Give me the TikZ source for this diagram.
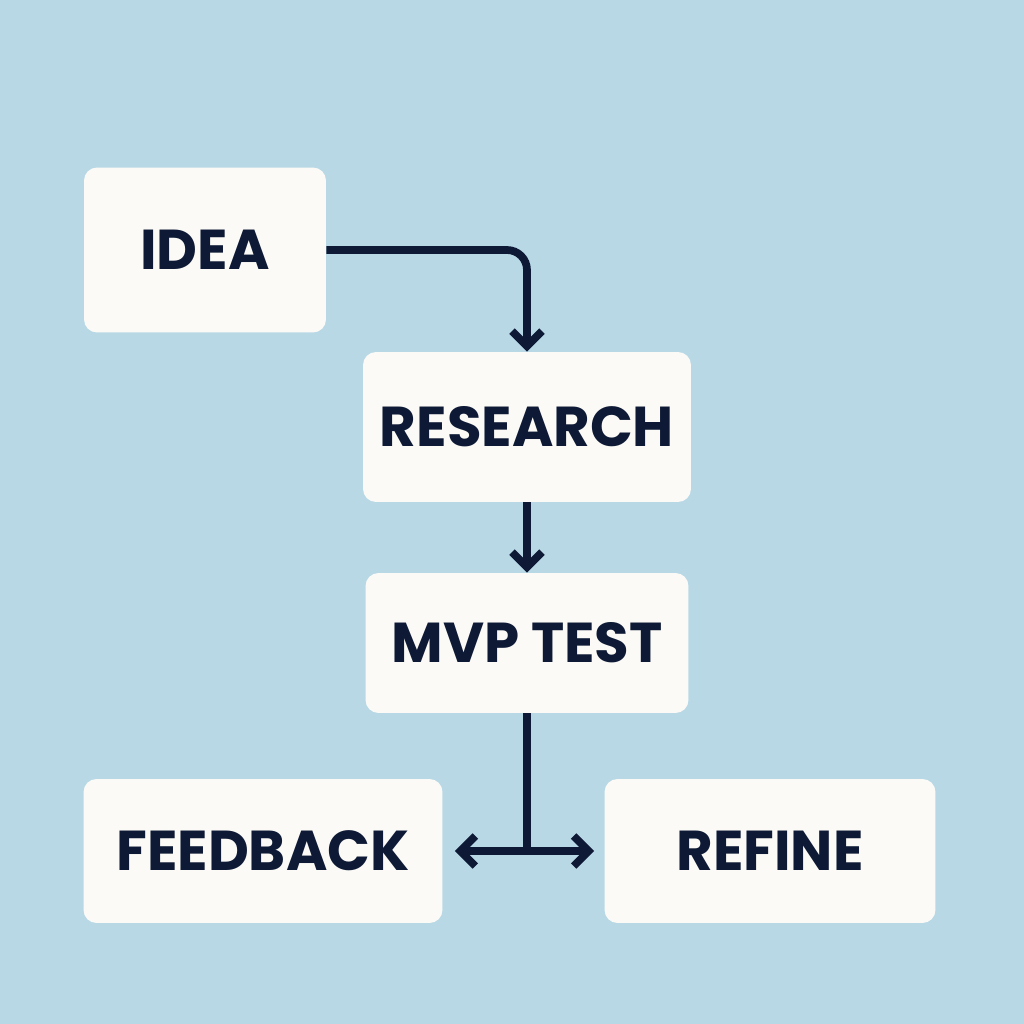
\documentclass[tikz,border=0pt]{standalone}
\usepackage{fontspec}
\setmainfont{Poppins}
\usetikzlibrary{arrows.meta}
\definecolor{bg}{HTML}{B8D8E6}
\definecolor{boxc}{HTML}{FBFAF6}
\definecolor{ink}{HTML}{0E1A35}
\begin{document}
\begin{tikzpicture}[x=0.02cm,y=-0.02cm,
  stepbox/.style={fill=boxc,rounded corners=0.26cm,text=ink,font=\fontsize{32}{36}\selectfont\bfseries,inner sep=0pt},
  conn/.style={draw=ink,line width=4.4pt,-{Straight Barb[length=0.3cm,width=0.6cm,line width=4.4pt]}}]
\fill[bg] (0,0) rectangle (1024,1024);
\useasboundingbox (0,0) rectangle (1024,1024);
\node[stepbox,minimum width=4.84cm,minimum height=3.3cm] (idea) at (205,250) {IDEA};
\node[stepbox,minimum width=6.56cm,minimum height=3.0cm] (res) at (527,427) {RESEARCH};
\node[stepbox,minimum width=6.46cm,minimum height=2.8cm] (mvp) at (527,643) {MVP TEST};
\node[stepbox,minimum width=7.18cm,minimum height=2.88cm] (fb) at (263,851) {FEEDBACK};
\node[stepbox,minimum width=6.62cm,minimum height=2.88cm] (ref) at (770,851) {REFINE};
\coordinate (split) at (527,851);
\draw[conn,rounded corners=0.4cm] (idea.east) -- (527,250) -- (res.north);
\draw[conn] (res.south) -- (mvp.north);
\draw[draw=ink,line width=4.4pt] (mvp.south) -- (split);
\draw[conn] (split) -- ([xshift=0.24cm]fb.east);
\draw[conn] (split) -- ([xshift=-0.2cm]ref.west);
\end{tikzpicture}
\end{document}
